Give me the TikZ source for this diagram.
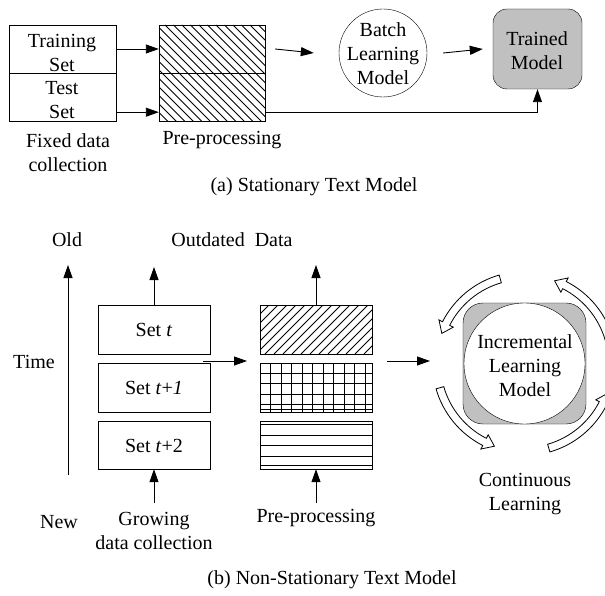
\documentclass[tikz,border=0pt]{standalone}
\usepackage{fontspec}
\setmainfont{Liberation Serif}
\usetikzlibrary{arrows.meta,calc}
\definecolor{fillgray}{HTML}{C0C0C0}
\tikzset{
  x=1pt, y=1pt,
  line width=0.9pt,
  boxnode/.style={draw, inner sep=0pt, minimum width=#1},
  txt/.style={font=\fontsize{20}{24}\selectfont, align=center, inner sep=0pt},
  arr/.style={line width=0.9pt, -{Triangle[length=13pt,width=9pt]}},
  hatch/.style={line width=0.8pt},
  hollow/.style={line width=0.8pt, fill=white}
}
\begin{document}
\begin{tikzpicture}
\useasboundingbox (0,0) rectangle (605,-596);

% ---------- (a) ----------
\node[boxnode=107, minimum height=48] (train) at (62.5,-49) {};
\node[boxnode=107, minimum height=48] (test) at (62.5,-97) {};
\node[txt] (trainT) at (62,-53) {Training\\Set};
\node[txt] (testT) at (62,-100) {Test\\Set};
\node[txt] (fixed) at (68,-153) {Fixed data\\collection};

\begin{scope}
  \clip (159,-25) rectangle (265,-121);
  \foreach \i in {0,...,24} \draw[hatch] ({63+\i*8.5},-25) -- ++(100,-100);
\end{scope}
\node[boxnode=106, minimum height=48] (pa1) at (212,-49) {};
\node[boxnode=106, minimum height=48] (pa2) at (212,-97) {};
\node[txt] (ppA) at (222,-140) {Pre-processing};

\node[circle, draw, minimum size=88, inner sep=0pt] (batch) at (383,-53) {};
\node[txt] (batchT) at (383,-54) {Batch\\Learning\\Model};

\node[draw, rounded corners=14, fill=fillgray, minimum width=89, minimum height=80, inner sep=0pt] (trained) at (537.5,-49) {};
\node[txt] (trainedT) at (537,-51) {Trained\\Model};

\draw[arr] (train.east) -- (pa1.west);
\draw[arr] ($(test.south east)+(0,9)$) -- ($(pa2.south west)+(0,9)$);
\draw[arr] ([xshift=10]pa1.east) -- ([xshift=-25]batch.west);
\draw[arr] ([xshift=16]batch.east) -- ([xshift=-10]trained.west);
\draw[arr] ($(pa2.south east)+(0,9)$) -| (trained.south);

\node[txt] (capA) at (314,-187) {(a) Stationary Text Model};

% ---------- (b) ----------
\node[txt] (old) at (67,-240) {Old};
\node[txt] (time) at (34,-362) {Time};
\node[txt] (new) at (59,-522) {New};
\coordinate (tbot) at (68,-475);
\coordinate (ttop) at (68,-265);
\draw[arr] (tbot) -- (ttop);

\node[boxnode=112, minimum height=49] (st) at (154,-329.5) {};
\node[boxnode=112, minimum height=49] (st1) at (154,-387.5) {};
\node[boxnode=112, minimum height=48] (st2) at (154,-445) {};
\node[txt] (stT) at (154,-330) {Set \textit{t}};
\node[txt] (st1T) at (154,-388) {Set \textit{t}+\textit{1}};
\node[txt] (st2T) at (154,-446) {Set \textit{t}+2};

\node[txt] (outd) at (232,-240) {Outdated\ \ Data};
\coordinate (outTip) at (154,-267);
\draw[arr] (st.north) -- (outTip);
\coordinate (gFoot) at (154,-503);
\draw[arr] (gFoot) -- (st2.south);
\node[txt] (grow) at (154,-531) {Growing\\data collection};

\coordinate (m1a) at (203,-361);
\coordinate (m1b) at (247,-361);
\draw[arr] (m1a) -- (m1b);

% pre-processing boxes
\begin{scope}
  \clip (260,-305) rectangle (372,-354);
  \foreach \i in {0,...,18} \draw[hatch] ({211+\i*9},-354) -- ++(60,60);
\end{scope}
\foreach \k in {1,...,10} \draw[hatch] ({260+\k*10.5},-363) -- ++(0,-49);
\foreach \yy in {373.4,383.8,394.2,404.6,409.5} \draw[hatch] (260,-\yy) -- ++(112,0);
\foreach \yy in {424.3,435,445.7,456.7,465.7} \draw[hatch] (260,-\yy) -- ++(112,0);
\node[boxnode=112, minimum height=49] (pb1) at (316,-329.5) {};
\node[boxnode=112, minimum height=49] (pb2) at (316,-387.5) {};
\node[boxnode=112, minimum height=48] (pb3) at (316,-445) {};

\coordinate (pbTip) at (316,-265);
\draw[arr] (pb1.north) -- (pbTip);
\coordinate (pFoot) at (316,-503);
\draw[arr] (pFoot) -- (pb3.south);
\node[txt] (ppB) at (316,-518) {Pre-processing};

\coordinate (m2a) at (387,-361);
\coordinate (m2b) at (430,-361);
\draw[arr] (m2a) -- (m2b);

\node[draw, rounded corners=20, fill=fillgray, minimum width=123, minimum height=121, inner sep=0pt] (incbox) at (524.5,-363.5) {};
\node[circle, draw, fill=white, minimum size=121, inner sep=0pt] (inc) at (524.5,-363.5) {};
\node[txt] (incT) at (525,-366) {Incremental\\Learning\\Model};

\coordinate (C) at (524.5,-363.5);
\foreach \a in {16,106,196,286} {
  \pgfmathsetmacro{\b}{\a+47}
  \pgfmathsetmacro{\t}{\a+54}
  \draw[hollow] ($(C)+(\a:92)$) arc[start angle=\a, end angle=\b, radius=92]
     -- ($(C)+(\b:96)$) -- ($(C)+(\t:88)$) -- ($(C)+(\b:80)$) -- ($(C)+(\b:84)$)
     arc[start angle=\b, end angle=\a, radius=84] -- cycle;
}
\node[txt] (cont) at (525,-494) {Continuous\\Learning};

\node[txt] (capB) at (332,-580) {(b) Non-Stationary Text Model};
\end{tikzpicture}
\end{document}
